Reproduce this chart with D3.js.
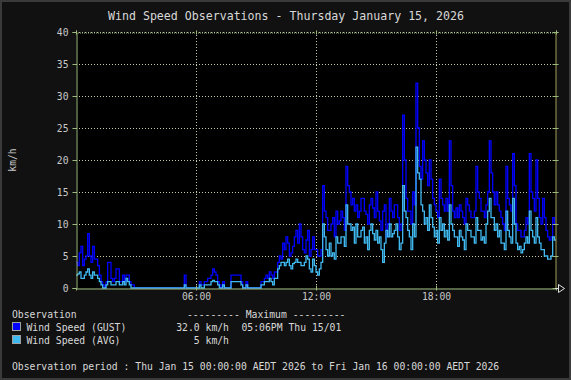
<!DOCTYPE html>
<html><head><meta charset="utf-8">
<script src="https://cdn.jsdelivr.net/npm/d3@7"></script>
<style>
html,body{margin:0;padding:0;background:#111;}
svg{display:block;}
text{font-family:"DejaVu Sans Mono",monospace;}
</style></head>
<body>
<svg id="c" width="571" height="380"></svg>
<script>
const title = "Wind Speed Observations - Thursday January 15, 2026";
const yLabel = "km/h";
const yTicks = [0,5,10,15,20,25,30,35,40];
const xTickMinutes = [360,720,1080];
const xTickLabels = ["06:00","12:00","18:00"];
const sampleStep = 5; // minutes between samples
const seriesNames = ["Wind Speed (GUST)","Wind Speed (AVG)"];
const seriesMax = ["32.0 km/h","5 km/h"];
const seriesMaxTime = ["05:06PM Thu 15/01",""];
const periodText = "Observation period : Thu Jan 15 00:00:00 AEDT 2026 to Fri Jan 16 00:00:00 AEDT 2026";

const gust = [
 4,3.5,5.5,6.5,3.5,4.5,5,8.5,5,4,6.5,4.5,
 4.5,3.5,2,1,0.5,0,1,4,4,1.5,1,1.5,
 3,3,1,1,2,1,2,2,1,0.5,0.5,0,
 0,0,0,0,0,0,0,0,0,0,0,0,
 0,0,0,0,0,0,0,0,0,0,0,0,
 0,0,0,0,0,2,0,0,0,0,0,0,
 0,0,1,0.5,0.5,1,1,1.5,1.5,2,3,2.5,
 2,1,0.5,0,1,0,0,0,0,2,2,2,
 2,2,2,1,0,0,1,0,0,0,0,0,
 0,0,0,1,1,1.5,2,1.5,2.5,2,1.5,2.5,
 2.5,4,5,4.5,7,6,8,7,5,5.5,6.5,8,
 9,7,10,8,6,5.5,7.5,9,5,6,8,6,
 6,5,5,6,16,12,11,9,9,10,11,8,
 12,10,10.5,12,11,9,19,16,15,13,14,12,
 13,11,12,14,14,12,11.5,10,13,14,12.5,11,
 15,12,10.5,9,12,13,8,10,14,12,11,13,
 13,11,9,10,27,20,14,12,12,10,15,13,
 32,25,19,17,23,20,18,16,20,17,14,13,
 12,11,17,14,13,12,14,12,23,16,12,11,
 12.5,11,13,12,11,10,14,13,12,11,11,12,
 19,15,14,12,12,11,13,15,23,18,15,13,
 15,13,12,11,10,9,19,14,13,12,21,16,
 10,9,9,8,8,9,11,10,21,15,14,12,
 20,14,11,10,14,11,9,8,7.5,8,11,10
];
const avg = [
 2,2.2,2.5,1.5,1.5,2,2.5,3,2,1.5,2.5,2,
 2,1.5,1,0.5,0,0,0.5,1,1,0.5,0.5,0.5,
 1,1,0.5,0.5,1,0.5,1.5,1,0.5,0,0,0,
 0,0,0,0,0,0,0,0,0,0,0,0,
 0,0,0,0,0,0,0,0,0,0,0,0,
 0,0,0,0,0,0.5,0,0,0,0,0,0,
 0,0,0.5,0,0,0.5,0.5,0.5,0.5,1,1.2,1,
 1,0.5,0,0,0.5,0,0,0,0,1,1,1,
 1,1,1,0.5,0,0,0.5,0,0,0,0,0,
 0,0,0,0.5,0.5,1,1,1,1.5,1,0.5,1.5,
 1.5,3,3.5,4,4,3.5,4,4.5,3.5,3,3.8,4,
 4.5,4,4,3.5,3.5,4,5,4.5,3,2.5,4.5,3.5,
 2.5,2,3,4,10,8,6,5,7,5,5.5,4.5,
 8,7,7,8,8,6.5,13,10,10,9,9.5,7,
 10,8,8,9,9.5,7,8,6,9,10,8.5,7.5,
 9,7,8,6,4,7,9,8,10,8,8.5,9,
 10,8,6,7,16,12,11,9,8,6,10,8,
 22,18,17,13,12,10,11,9,13,11,9.5,8,
 9,7,11,9,10,8,9,7.5,13,10,9,8,
 8,6.5,9,8,7.5,6,10,9,9,8,8,7,
 11,9,9,7.5,8,7,10,12,14,11,11,9,
 10,8,9,7,7,6,12,9,8,7,14,10,
 7,6,6.5,5.5,6,7,8,7,12,9,8,7,
 11,8,7,6,6,5,5,4.5,4.5,5,8,7.5
];
const colors = ["#0000ff","#40b8f0"];

const svg = d3.select("#c");
svg.append("rect").attr("x",0).attr("y",0).attr("width",571).attr("height",380).attr("fill","#3a3a3a");
svg.append("rect").attr("x",2).attr("y",2).attr("width",567).attr("height",376).attr("fill","#111111");

const x = d3.scaleLinear().domain([0,1440]).range([76,556]);
const y = d3.scaleLinear().domain([0,40]).range([288,32]);

svg.append("rect").attr("x",x(0)).attr("y",y(40)).attr("width",x(1440)-x(0)).attr("height",y(0)-y(40)).attr("fill","#000");

const gridColor = "#c8c8a8";
svg.append("g").selectAll("line").data(yTicks.filter(d=>d>0)).join("line")
  .attr("x1",x(0)).attr("x2",x(1440)).attr("y1",d=>y(d)+0.5).attr("y2",d=>y(d)+0.5)
  .attr("stroke",gridColor).attr("stroke-width",1).attr("stroke-dasharray","1,2");
svg.append("g").selectAll("line").data(xTickMinutes).join("line")
  .attr("x1",d=>x(d)+0.5).attr("x2",d=>x(d)+0.5).attr("y1",y(40)).attr("y2",y(0))
  .attr("stroke",gridColor).attr("stroke-width",1).attr("stroke-dasharray","1,2");

const toPts = arr => { const p = arr.map((v,i)=>[i*sampleStep,v]); p.push([1440,arr[arr.length-1]]); return p; };
const line = d3.line().x(d=>x(d[0])).y(d=>y(d[1])).curve(d3.curveStepAfter);
[gust,avg].forEach((s,k)=>{
  svg.append("path").datum(toPts(s)).attr("d",line).attr("fill","none")
    .attr("stroke",colors[k]).attr("stroke-width",1.3);
});

const axisColor = "#9cba7c";
const yAxis = d3.axisLeft(y).tickValues(yTicks).tickSize(4).tickPadding(4);
const gy = svg.append("g").attr("transform","translate(76.5,0)").call(yAxis);
gy.select(".domain").attr("stroke",axisColor);
gy.selectAll(".tick line").attr("stroke",axisColor);
gy.selectAll(".tick text").attr("fill","#c8c8c8").style("font-size","9.7px").style("font-family","DejaVu Sans Mono");

const yAxisR = d3.axisRight(y).tickValues(yTicks).tickSize(3).tickFormat("");
const gyr = svg.append("g").attr("transform","translate(555.5,0)").call(yAxisR);
gyr.select(".domain").attr("stroke","#a0a058");
gyr.selectAll(".tick line").attr("stroke",axisColor).attr("x1",-3);

const xAxis = d3.axisBottom(x).tickValues(xTickMinutes).tickFormat((d,i)=>xTickLabels[i]).tickSize(2).tickPadding(3);
const gx = svg.append("g").attr("transform","translate(0,288.5)").call(xAxis);
gx.select(".domain").attr("stroke",axisColor);
gx.selectAll(".tick line").attr("stroke",axisColor).attr("y1",-3);
gx.selectAll(".tick text").attr("fill","#c8c8c8").style("font-size","9.7px").style("font-family","DejaVu Sans Mono");

const xAxisT = d3.axisTop(x).tickValues([0].concat(xTickMinutes,[1440])).tickSize(2).tickFormat("");
const gxt = svg.append("g").attr("transform","translate(0,32.5)").call(xAxisT);
gxt.select(".domain").attr("stroke",axisColor).attr("stroke-dasharray","1,1");
gxt.selectAll(".tick line").attr("stroke",axisColor).attr("y1",2);

svg.append("path").attr("d","M558.5,284.5 L564.5,288.5 L558.5,292.5 Z M555,288.5 L558.5,288.5")
  .attr("fill","none").attr("stroke","#e0e0e0").attr("stroke-width",1);

svg.append("text").attr("x",286).attr("y",19.5).attr("text-anchor","middle")
  .attr("fill","#d8d8d8").style("font-size","11.6px").text(title);

svg.append("text").attr("transform","translate(16,160) rotate(-90)").attr("text-anchor","middle")
  .attr("fill","#c8c8c8").style("font-size","9.7px").text(yLabel);

const lg = svg.append("g").style("font-size","9.75px").attr("fill","#d8d8d8");
lg.append("text").attr("x",12).attr("y",318).text("Observation");
lg.append("text").attr("x",187).attr("y",318).text("--------- Maximum ---------");
seriesNames.forEach((n,i)=>{
  const yy = 322.5 + i*13;
  lg.append("rect").attr("x",12.5).attr("y",yy).attr("width",8).attr("height",8)
    .attr("fill",colors[i]).attr("stroke","#a0a0a0").attr("stroke-width",1);
  lg.append("text").attr("x",26.5).attr("y",yy+8).text(n);
  lg.append("text").attr("x",229).attr("y",yy+8).attr("text-anchor","end").text(seriesMax[i]);
  if (seriesMaxTime[i]) lg.append("text").attr("x",241.5).attr("y",yy+8).text(seriesMaxTime[i]);
});
lg.append("text").attr("x",12).attr("y",369.5).text(periodText);
</script>
</body></html>
